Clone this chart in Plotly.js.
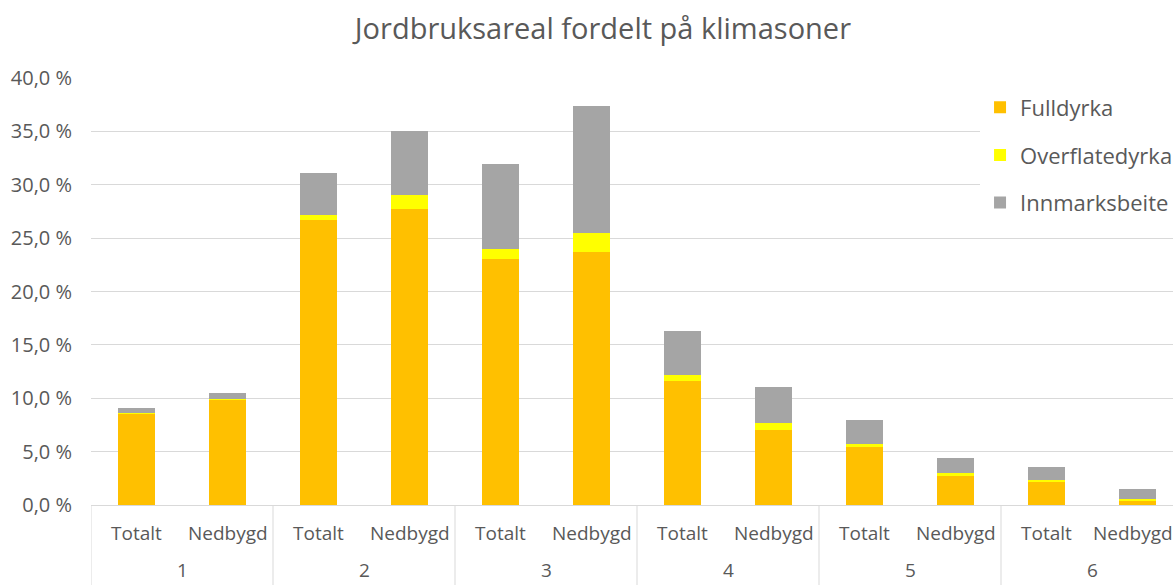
<!DOCTYPE html>
<html>
<head>
<meta charset="utf-8">
<script src="https://cdn.plot.ly/plotly-3.0.1.min.js"></script>
<style>html,body{margin:0;padding:0;background:#fff;}#chart{width:1173px;height:585px;}</style>
</head>
<body>
<div id="chart"></div>
<script>
const zones = ["1","1","2","2","3","3","4","4","5","5","6","6"];
const kinds = ["Totalt","Nedbygd","Totalt","Nedbygd","Totalt","Nedbygd","Totalt","Nedbygd","Totalt","Nedbygd","Totalt","Nedbygd"];
const fulldyrka =      [8.55, 9.8, 26.7, 27.7, 23.0, 23.7, 11.6, 7.0, 5.4, 2.75, 2.2, 0.4];
const overflatedyrka = [0.05, 0.1, 0.5, 1.3, 1.0, 1.8, 0.6, 0.65, 0.35, 0.28, 0.17, 0.19];
const innmarksbeite =  [0.45, 0.6, 3.9, 6.0, 7.9, 11.9, 4.1, 3.45, 2.2, 1.37, 1.23, 0.88];
const yTickVals = [0,5,10,15,20,25,30,35,40];
const yTickText = ["0,0 %","5,0 %","10,0 %","15,0 %","20,0 %","25,0 %","30,0 %","35,0 %","40,0 %"];

const font = "Open Sans, Calibri, Carlito, sans-serif";
const txt = "#595959";
const grid = "#D9D9D9";
const cats = zones.map((z, i) => z + " " + kinds[i]);
const plotH = 585 - 78 - 80;

function tr(name, y, color, grp) {
  return {type:"bar", name:name, x:cats, y:y,
    marker:{color:color, line:{width:0}}, legendgroup:grp, hoverinfo:"skip"};
}
const data = [
  tr("Fulldyrka", fulldyrka, "#FFC000", "a"),
  tr("Overflatedyrka", overflatedyrka, "#FFFF00", "b"),
  tr("Innmarksbeite", innmarksbeite, "#A5A5A5", "c")
];

// two-level category labels and group dividers, derived from the arrays
const annotations = [];
const shapes = [];
cats.forEach((c, i) => {
  annotations.push({xref:"x", yref:"paper", x:c, y:-28/plotH, yanchor:"middle", xanchor:"center",
    xshift:(i === cats.length - 1 ? -5 : 0),
    text:kinds[i], showarrow:false, font:{family:font, size:19, color:txt}});
});
const groups = [...new Set(zones)];
groups.forEach(g => {
  const idx = zones.map((z, i) => z === g ? i : -1).filter(i => i >= 0);
  const first = idx[0], last = idx[idx.length - 1];
  annotations.push({xref:"x", yref:"paper", x:(first + last) / 2, y:-80/plotH, yanchor:"bottom", xanchor:"center",
    text:g, showarrow:false, font:{family:font, size:19, color:txt}});
  shapes.push({type:"line", xref:"x", yref:"paper", x0:first - 0.5, x1:first - 0.5, y0:0, y1:-80/plotH,
    line:{color:grid, width:1}});
});

const layout = {
  width:1173, height:585,
  margin:{l:91, r:0, t:78, b:80, pad:0, autoexpand:false},
  paper_bgcolor:"#fff", plot_bgcolor:"#fff",
  barmode:"stack", bargap:0.59,
  title:{text:"Jordbruksareal fordelt på klimasoner", x:0.514, xanchor:"center", y:0.95, yanchor:"middle",
    font:{family:font, size:29, color:txt}},
  xaxis:{type:"category", range:[-0.5, 11.39], showgrid:false, showline:false, showticklabels:false,
    ticks:"", fixedrange:true},
  yaxis:{range:[0,40], tickvals:yTickVals, ticktext:yTickText, showgrid:true, gridcolor:grid, gridwidth:1,
    zeroline:true, zerolinecolor:grid, zerolinewidth:1, showline:false,
    tickfont:{family:font, size:20, color:txt}, ticks:"", ticklen:0, ticklabelstandoff:18, fixedrange:true},
  legend:{xref:"container", x:0.8355, xanchor:"left", y:0.98, yanchor:"top", bgcolor:"#fff", traceorder:"grouped",
    tracegroupgap:16, font:{family:font, size:22, color:txt}, itemwidth:30},
  annotations:annotations,
  shapes:shapes,
  showlegend:true
};
Plotly.newPlot("chart", data, layout, {staticPlot:true, displayModeBar:false});
</script>
</body>
</html>
